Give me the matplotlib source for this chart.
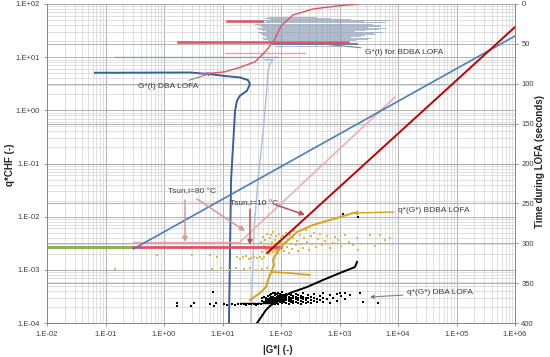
import numpy as np
import matplotlib.pyplot as plt
from matplotlib.ticker import FixedLocator, FuncFormatter, MultipleLocator, NullFormatter

plt.rcParams['font.family'] = ['Liberation Sans', 'DejaVu Sans']

# ---- q*(G*) space lines ----
green_G = [0.01, 0.3]
green_q = [2.65e-3, 2.65e-3]
red_h_G = [0.3, 100]
red_h_q = [2.65e-3, 2.65e-3]
pink_h_G = [0.3, 20]
pink_h_q = [3.35e-3, 3.35e-3]
pink_d_G = [20, 8890]
pink_d_q = [3.35e-3, 1.78]
red_d_G = [57.7, 1e6]
red_d_q = [2.07e-3, 36.9]
blue_d_G = [0.3, 1e6]
blue_d_q = [2.47e-3, 25]

# q*(G*) BDBA LOFA (gold)
gold_G = [29.5, 43.8, 55.4, 60, 64.9, 70.2, 75.8, 73, 82.2, 104, 188, 352, 689, 1343, 1700]
gold_q = [2.71e-4, 3.67e-4, 4.75e-4, 6.44e-4, 8.0e-4, 9.93e-4, 1.23e-3, 1.53e-3, 1.99e-3,
          2.81e-3, 5.15e-3, 6.98e-3, 8.67e-3, 1.08e-2, 1.17e-2]
gold_br_G = [70.2, 142.6, 313]
gold_br_q = [9.1e-4, 8.7e-4, 8.0e-4]
gold_pts_G = [0.145, 0.76, 3.0, 6.1, 8.1,
              6.5, 9.5, 13, 17, 23, 30, 38, 48, 58,
              18, 20, 22.5, 25, 28, 31, 35, 39, 43, 47, 52,
              46, 48, 50, 52, 54, 56, 58, 60, 62, 64, 66, 68, 70, 72, 74, 76, 78, 80, 83, 86,
              88, 91, 94, 97, 100, 104, 108, 112, 116, 120, 125, 130, 136, 142, 148,
              155, 162, 170, 178, 188, 198, 210, 222, 235, 250, 265, 280, 300, 320, 345, 370,
              400, 430, 470, 510, 560, 620, 690, 760, 850, 950, 1080, 1250, 1450, 1700, 2000, 2100,
              3320, 6000, 7290, 4040, 4920,
              62, 67, 71, 77, 82, 87, 93, 99, 66, 75, 85, 95]
gold_pts_q = [1.04e-3, 1.9e-3, 1.9e-3, 1.9e-3, 1.75e-3,
              1.05e-3, 1.1e-3, 1.0e-3, 1.08e-3, 1.05e-3, 1.1e-3, 1.0e-3, 1.05e-3, 1.1e-3,
              1.75e-3, 1.6e-3, 1.72e-3, 1.8e-3, 1.62e-3, 1.7e-3, 1.78e-3, 1.65e-3, 1.72e-3, 1.6e-3, 1.75e-3,
              3.4e-3, 2.2e-3, 4.2e-3, 2.8e-3, 3.6e-3, 2.4e-3, 4.8e-3, 3.1e-3, 2.0e-3, 3.9e-3, 2.6e-3,
              4.5e-3, 3.3e-3, 2.2e-3, 5.2e-3, 2.9e-3, 3.7e-3, 2.4e-3, 4.3e-3, 3.0e-3,
              2.1e-3, 3.5e-3, 4.8e-3, 2.6e-3, 3.9e-3, 2.9e-3, 4.4e-3, 2.3e-3, 3.4e-3, 5.0e-3,
              2.7e-3, 3.8e-3, 2.1e-3, 4.5e-3, 3.1e-3,
              2.5e-3, 3.9e-3, 5.3e-3, 2.9e-3, 3.5e-3, 2.3e-3, 4.6e-3, 3.1e-3, 2.6e-3, 4.0e-3,
              5.6e-3, 3.3e-3, 2.4e-3, 4.4e-3, 3.0e-3, 5.0e-3,
              2.7e-3, 3.8e-3, 4.8e-3, 2.9e-3, 3.5e-3, 4.4e-3, 2.6e-3, 3.2e-3, 4.1e-3, 3.6e-3,
              2.8e-3, 4.6e-3, 3.3e-3, 2.9e-3, 4.0e-3, 2.4e-3,
              4.5e-3, 3.6e-3, 4.0e-3, 2.85e-3, 4.5e-3,
              2.5e-3, 3.0e-3, 2.35e-3, 2.7e-3, 3.2e-3, 2.45e-3, 2.8e-3, 3.3e-3, 2.2e-3, 2.55e-3,
              2.3e-3, 2.75e-3]

# q*(G*) DBA LOFA (black)
blk_G = [38.9, 47.3, 55.4, 64.9, 82.2, 142.6, 278, 522, 1020, 1840, 1990]
blk_q = [1.0e-4, 1.36e-4, 1.76e-4, 2.09e-4, 2.48e-4, 3.67e-4, 4.75e-4, 6.44e-4, 8.73e-4, 1.13e-3, 1.41e-3]
blk_h_G = [19.9, 78.9]
blk_h_q = [2.38e-4, 2.38e-4]
blk_pts_G = [1.7, 1.7, 2.9, 3.3, 6.2, 6.9, 7.7, 7.2, 10.5, 12.0, 14.5, 16.5, 18.5, 20.5, 23, 25.5,
             28, 31, 34, 37, 41, 45,
             48, 48, 52, 52, 56, 56, 56, 60, 60, 60, 60, 64, 64, 64, 64,
             68, 68, 68, 68, 68, 73, 73, 73, 73, 73, 78, 78, 78, 78, 78, 78,
             84, 84, 84, 84, 84, 90, 90, 90, 90, 90, 90, 97, 97, 97, 97, 97,
             105, 105, 105, 105, 105, 105, 114, 114, 114, 114, 124, 124, 124, 124, 124,
             135, 135, 135, 135, 135, 148, 148, 148, 148, 148, 162, 162, 162, 162,
             178, 178, 178, 178, 196, 196, 196, 196, 216, 216, 216, 216, 240, 240, 240, 240,
             265, 265, 265, 295, 295, 295, 330, 330, 330, 370, 370, 370, 415, 415, 470, 470,
             530, 530, 530, 600, 680, 680, 780, 900, 900, 1050, 1250, 1250, 1510, 1020, 2240,
             2520, 3740, 4550, 1150, 2040]
blk_pts_q = [2.4e-4, 2.1e-4, 2.1e-4, 2.35e-4, 2.3e-4, 3.8e-4, 2.35e-4, 2.1e-4, 2.3e-4, 2.15e-4,
             2.3e-4, 2.2e-4, 2.32e-4, 2.25e-4, 2.3e-4, 2.2e-4, 2.3e-4, 2.25e-4, 2.3e-4, 2.2e-4,
             2.3e-4, 2.25e-4,
             2.6e-4, 2.9e-4, 2.45e-4, 3.1e-4, 2.5e-4, 2.75e-4, 3.0e-4, 2.4e-4, 2.6e-4, 2.85e-4,
             3.2e-4, 2.5e-4, 2.7e-4, 2.95e-4, 3.35e-4,
             2.35e-4, 2.55e-4, 2.8e-4, 3.05e-4, 3.5e-4, 2.45e-4, 2.65e-4, 2.9e-4, 3.15e-4, 3.6e-4,
             2.3e-4, 2.5e-4, 2.75e-4, 3.0e-4, 3.3e-4, 3.7e-4,
             2.4e-4, 2.6e-4, 2.85e-4, 3.1e-4, 3.45e-4, 2.3e-4, 2.55e-4, 2.8e-4, 3.0e-4, 3.25e-4, 3.6e-4,
             2.45e-4, 2.7e-4, 2.95e-4, 3.2e-4, 3.5e-4,
             2.35e-4, 2.6e-4, 2.85e-4, 3.1e-4, 3.4e-4, 3.75e-4, 2.5e-4, 2.75e-4, 3.0e-4, 3.3e-4,
             2.4e-4, 2.65e-4, 2.9e-4, 3.2e-4, 3.55e-4,
             2.3e-4, 2.55e-4, 2.8e-4, 3.1e-4, 3.45e-4, 2.45e-4, 2.7e-4, 3.0e-4, 3.3e-4, 3.7e-4,
             2.35e-4, 2.6e-4, 2.9e-4, 3.2e-4,
             2.5e-4, 2.8e-4, 3.1e-4, 3.5e-4, 2.4e-4, 2.7e-4, 3.0e-4, 3.35e-4, 2.3e-4, 2.6e-4,
             2.9e-4, 3.25e-4, 2.5e-4, 2.8e-4, 3.15e-4, 3.6e-4,
             2.35e-4, 2.7e-4, 3.0e-4, 2.5e-4, 2.9e-4, 3.3e-4, 2.4e-4, 2.75e-4, 3.1e-4, 2.6e-4,
             3.0e-4, 3.5e-4, 2.45e-4, 2.85e-4, 2.7e-4, 3.2e-4,
             2.5e-4, 3.0e-4, 3.6e-4, 2.8e-4, 2.4e-4, 3.3e-4, 3.0e-4, 2.6e-4, 3.5e-4, 3.2e-4,
             2.8e-4, 3.7e-4, 3.3e-4, 3.67e-4, 3.67e-4,
             2.5e-4, 3.1e-4, 2.38e-4, 1.12e-2, 9.9e-3]

# ---- G*(t) space (time on right axis) ----
dba_G = [0.066, 2.78, 6.1, 10.2, 19.9, 27.3, 29.5, 26.2, 19.9, 17.7, 16.4, 14.0, 12.9]
dba_t = [86.25, 85.9, 87.9, 90, 92.1, 95.4, 100.4, 108.75, 115, 121, 133.75, 221, 400]
lb_G = [53.2, 73, 64.9, 60, 57.7, 53.2, 49.2, 40.4, 34.5, 30.7]
lb_t = [70, 70, 75, 83.75, 102.5, 133.75, 162.5, 221, 283.75, 400]
red_s_G = [4.12, 6.1, 11.0, 19.9, 36, 53.2, 75.8, 100, 160, 352, 906, 1990]
red_s_t = [87.5, 86.9, 85, 79.4, 72.5, 60, 46.25, 27.5, 13.75, 6.25, 2.5, 0]

# horizontal G*(t) excursions: (time, G_low, G_high)
broom_t = [16.25, 17.5, 19.4, 20, 21.25, 22.5, 25, 26.25, 27.5, 28.75, 30, 31.25, 32.5, 33.75,
           35, 36.25, 37.5, 38.75, 40, 41.25, 42.5, 43.75, 45, 52.5]
broom_lo = [60, 53.2, 64.9, 47.3, 55, 40.4, 36, 45, 43.8, 50, 38.9, 42, 47.3, 55,
            40.4, 44, 47.3, 50, 53.2, 58, 47.3, 52, 60, 78.9]
broom_hi = [400, 689, 1510, 7290, 2500, 6000, 3590, 5000, 4920, 3000, 6000, 4500, 2730, 1800,
            5320, 3800, 4040, 2600, 2240, 1500, 3320, 2900, 1840, 1020]
dark_broom = (50, 73, 1990)
red_lines = [(47.1, 1.73, 1396), (21.25, 11.9, 47.3)]
pink_line = (61, 11, 257)
grey_line = (66.25, 0.145, 85.5)

x_major = [1e-2, 1e-1, 1e0, 1e1, 1e2, 1e3, 1e4, 1e5, 1e6]
y_major = [1e-4, 1e-3, 1e-2, 1e-1, 1e0, 1e1, 1e2]

fig = plt.figure(figsize=(5.5, 3.57), dpi=100)
rect = [47 / 550, 34 / 357, 468 / 550, 319 / 357]

bg = fig.add_axes(rect)
bg.set_zorder(0)
bg.set_xscale('log')
bg.set_yscale('log')
bg.set_xlim(1e-2, 1e6)
bg.set_ylim(1e-4, 1e2)
for a, majors in ((bg.xaxis, x_major), (bg.yaxis, y_major)):
    minors = [m * k for m in majors[:-1] for k in range(2, 10)]
    a.set_major_locator(FixedLocator(majors))
    a.set_minor_locator(FixedLocator(minors))
    a.set_major_formatter(NullFormatter())
    a.set_minor_formatter(NullFormatter())
bg.grid(True, which='major', color='#a6a6a6', lw=0.6)
bg.grid(True, which='minor', color='#d3d3d3', lw=0.5)
bg.tick_params(which='both', length=0)
for s in bg.spines.values():
    s.set_visible(False)

ax = fig.add_axes(rect)
ax.set_zorder(2)
ax.patch.set_visible(False)
ax.set_xscale('log')
ax.set_yscale('log')
ax.set_xlim(1e-2, 1e6)
ax.set_ylim(1e-4, 1e2)

ax2 = ax.twinx()
ax2.set_zorder(1)
ax2.patch.set_visible(False)
ax2.set_ylim(400, 0)
ax2.yaxis.set_major_locator(MultipleLocator(50))
ax2.set_axisbelow(True)
ax2.grid(True, axis='y', color='#a6a6a6', lw=0.6)

fmt = FuncFormatter(lambda v, _: f"1.E{int(round(np.log10(v))):+03d}")
ax.xaxis.set_major_locator(FixedLocator(x_major))
ax.yaxis.set_major_locator(FixedLocator(y_major))
for a in (ax.xaxis, ax.yaxis):
    a.set_major_formatter(fmt)
    a.set_minor_locator(FixedLocator([]))
    a.set_minor_formatter(NullFormatter())
ax.tick_params(which='major', length=2.5, width=0.6, color='#868686',
               labelsize=5.5, labelcolor='#404040', pad=3)
ax2.tick_params(length=2.5, width=0.6, color='#868686', labelsize=5.5,
                labelcolor='#404040', pad=2)
for s in ('top', 'right'):
    ax.spines[s].set_visible(False)
for s in ('left', 'bottom'):
    ax.spines[s].set_color('#868686')
    ax.spines[s].set_linewidth(0.7)
for s in ('left', 'top', 'bottom'):
    ax2.spines[s].set_visible(False)
ax2.spines['right'].set_color('#868686')
ax2.spines['right'].set_linewidth(0.7)

# G*(t) curves
for t, lo, hi in zip(broom_t, broom_lo, broom_hi):
    ax2.plot([lo, hi], [t, t], color='#8497b0', lw=0.7, alpha=0.65)
ax2.plot([dark_broom[1], dark_broom[2]], [dark_broom[0]] * 2, color='#5a6f94', lw=1.2)
for t, lo, hi in red_lines:
    ax2.plot([lo, hi], [t, t], color='#e05262', lw=1.8)
ax2.plot([pink_line[1], pink_line[2]], [pink_line[0]] * 2, color='#eba3aa', lw=1.0)
ax2.plot([grey_line[1], grey_line[2]], [grey_line[0]] * 2, color='#8ea0bb', lw=1.0)
ax2.plot(lb_G, lb_t, color='#a9c0de', lw=1.0)
ax2.plot(dba_G, dba_t, color='#3a5f9c', lw=1.4)
ax2.plot(red_s_G, red_s_t, color='#e05262', lw=1.0)

# q*(G*) lines
ax.plot(green_G, green_q, color='#8fae55', lw=2.2)
ax.plot(red_h_G, red_h_q, color='#e05262', lw=2.0)
ax.plot(pink_h_G, pink_h_q, color='#eba3aa', lw=1.0)
ax.plot(pink_d_G, pink_d_q, color='#eab0b6', lw=1.2)
ax.plot(blue_d_G, blue_d_q, color='#4a7ebb', lw=1.2)
ax.plot(red_d_G, red_d_q, color='#c00000', lw=1.4)
ax.scatter(gold_pts_G, gold_pts_q, s=1.3, marker='s', color='#dcbc48', lw=0)
ax.plot(gold_G, gold_q, color='#d4a21a', lw=1.4)
ax.plot(gold_br_G, gold_br_q, color='#d4a21a', lw=1.2)
ax.scatter(blk_pts_G, blk_pts_q, s=1.6, marker='s', color='black', lw=0)
ax.plot(blk_G, blk_q, color='black', lw=1.4)
ax.plot(blk_h_G, blk_h_q, color='black', lw=1.0)

# annotations
txt = dict(fontsize=6, color='#404040')
grey_arrow = dict(arrowstyle='->', color='#7f7f7f', lw=0.8, shrinkA=1, shrinkB=0, mutation_scale=6)
ax.annotate('G*(t) DBA LOFA', xy=(6.6, 5.03), xytext=(1.17, 2.75), ha='center', va='center',
            arrowprops=grey_arrow, **txt)
ax.annotate('G*(t) for BDBA LOFA', xy=(339, 18.5), xytext=(2730, 12.5), ha='left', va='center',
            arrowprops=grey_arrow, **txt)
ax.annotate('q*(G*) DBA LOFA', xy=(3320, 3.08e-4), xytext=(14260, 3.67e-4), ha='left', va='center',
            arrowprops=grey_arrow, **txt)
ax.annotate('q*(G*) BDBA LOFA', xy=(1700, 1.17e-2), xytext=(1e4, 1.28e-2), ha='left', va='center',
            arrowprops=dict(arrowstyle='->', color='#d4a21a', lw=1.0, shrinkA=1, shrinkB=0,
                            mutation_scale=6), **txt)

ax.text(3.0, 2.91e-2, 'Tsun,i=80 °C', ha='center', va='center', **txt)
ax.text(34.5, 1.73e-2, 'Tsun,i=10 °C', ha='center', va='center', **txt)
pink_arrow = dict(arrowstyle='-|>', color='#d9969b', lw=1.1, shrinkA=0, shrinkB=0, mutation_scale=7)
red_arrow = dict(arrowstyle='-|>', color='#c0504d', lw=1.1, shrinkA=0, shrinkB=0, mutation_scale=7)
ax.annotate('', xy=(2.29, 3.34e-3), xytext=(2.29, 2.06e-2), arrowprops=pink_arrow)
ax.annotate('', xy=(24.3, 5.38e-3), xytext=(3.66, 2.15e-2), arrowprops=pink_arrow)
ax.annotate('', xy=(29.5, 2.93e-3), xytext=(29.5, 1.39e-2), arrowprops=red_arrow)
ax.annotate('', xy=(257, 1.08e-2), xytext=(82.2, 1.66e-2), arrowprops=red_arrow)

fig.text(10 / 550, 1 - 165 / 357, 'q*CHF (-)', rotation=90, ha='center', va='center',
         fontsize=7, fontweight='bold', color='#262626')
fig.text(278 / 550, 1 - 350 / 357, '|G*| (-)', ha='center', va='center',
         fontsize=7, fontweight='bold', color='#262626')
fig.text(540 / 550, 1 - 162 / 357, 'Time during LOFA (seconds)', rotation=90, ha='center',
         va='center', fontsize=7, fontweight='bold', color='#262626')

fig.savefig('out.png', dpi=100, facecolor='white')
